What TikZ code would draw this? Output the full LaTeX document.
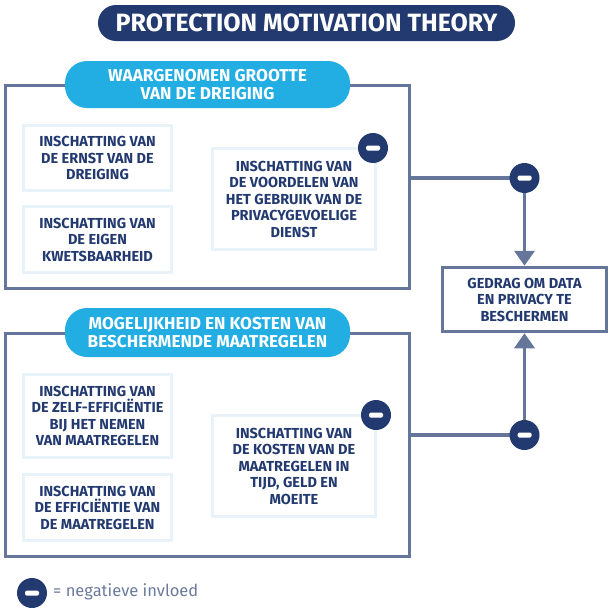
\documentclass[tikz,border=0pt]{standalone}
\usepackage{fontspec}
\setmainfont{Fira Sans}
\usetikzlibrary{arrows.meta}
\definecolor{navy}{HTML}{233A70}
\definecolor{sky}{HTML}{22ADE3}
\definecolor{frame}{HTML}{66769B}
\definecolor{pale}{HTML}{E8F2F9}
\definecolor{legendgray}{HTML}{6B7A9C}

\begin{document}
\begin{tikzpicture}[x=1pt,y=-1pt,
  heading/.style={fill=navy,text=white,rounded corners=18pt,minimum width=417pt,minimum height=36pt,font=\fontsize{25}{28}\selectfont\bfseries},
  group/.style={draw=frame,line width=3.5pt,minimum width=404pt,inner sep=0pt},
  pill/.style={fill=sky,text=white,rounded corners=22pt,minimum width=285pt,minimum height=47pt,align=center,font=\fontsize{17.2}{17.5}\selectfont\bfseries},
  factor/.style={draw=pale,line width=3pt,fill=white,text=navy,minimum width=148pt,inner sep=0pt,align=center,font=\fontsize{14.5}{16.5}\selectfont\bfseries},
  outcome/.style={draw=frame,line width=3.5pt,fill=white,text=navy,minimum width=164pt,minimum height=64pt,inner sep=0pt,align=center,font=\fontsize{14.5}{16.5}\selectfont\bfseries},
  minus/.style={circle,fill=navy,minimum size=30pt,inner sep=0pt,
    path picture={\fill[white,rounded corners=1.5pt] ([xshift=-7pt,yshift=-2.5pt]path picture bounding box.center) rectangle ([xshift=7pt,yshift=2.5pt]path picture bounding box.center);}},
  link/.style={draw=frame,line width=3.5pt}]
\useasboundingbox (0,0) rectangle (610,613);

\draw (306.5,23) node[heading](title) {PROTECTION MOTIVATION THEORY};

\draw (207.5,187) node[group,minimum height=203pt](threat) {};
\draw (207.5,445) node[group,minimum height=223pt](coping) {};
\draw (207.5,84.5) node[pill](threattitle) {WAARGENOMEN GROOTTE\\VAN DE DREIGING};
\draw (207.5,332.5) node[pill,minimum height=49pt](copingtitle) {MOGELIJKHEID EN KOSTEN VAN\\BESCHERMENDE MAATREGELEN};

\draw (97.5,158) node[factor,minimum height=65pt](ernst) {INSCHATTING VAN\\DE ERNST VAN DE\\DREIGING};
\draw (97.5,239.5) node[factor,minimum height=66pt](eigen) {INSCHATTING VAN\\DE EIGEN\\KWETSBAARHEID};
\draw (294,199) node[factor,minimum width=163pt,minimum height=101pt](voordelen) {INSCHATTING VAN\\DE VOORDELEN VAN\\HET GEBRUIK VAN DE\\PRIVACYGEVOELIGE\\DIENST};
\draw (97.5,416) node[factor,minimum height=83pt](zelf) {INSCHATTING VAN\\DE ZELF-EFFICIËNTIE\\BIJ HET NEMEN\\VAN MAATREGELEN};
\draw (97.5,507.5) node[factor,minimum height=66pt](efficientie) {INSCHATTING VAN\\DE EFFICIËNTIE VAN\\DE MAATREGELEN};
\draw (294,466) node[factor,minimum width=163pt,minimum height=101pt](kosten) {INSCHATTING VAN\\DE KOSTEN VAN DE\\MAATREGELEN IN\\TIJD, GELD EN\\MOEITE};

\draw (524.5,299.5) node[outcome](gedrag) {GEDRAG OM DATA\\EN PRIVACY TE\\BESCHERMEN};

\coordinate (j1) at (524.5,178);
\coordinate (j2) at (524.5,435);
\draw[link] (j1 -| threat.east) -- (j1);
\draw[link,-{Triangle[width=20pt,length=15pt]}] (j1) -- (gedrag.north);
\draw[link] (j2 -| coping.east) -- (j2);
\draw[link,-{Triangle[width=20pt,length=15pt]}] (j2) -- (gedrag.south);

\draw (j1) node[minus](m1) {};
\draw (j2) node[minus](m2) {};
\draw (373,148) node[minus](m3) {};
\draw (376,415) node[minus](m4) {};

\draw (32,593) node[minus](m5) {};
\draw (53,592) node[anchor=west,text=legendgray,inner sep=0pt,font=\fontsize{16.5}{18}\selectfont](legend) {= negatieve invloed};
\end{tikzpicture}
\end{document}
